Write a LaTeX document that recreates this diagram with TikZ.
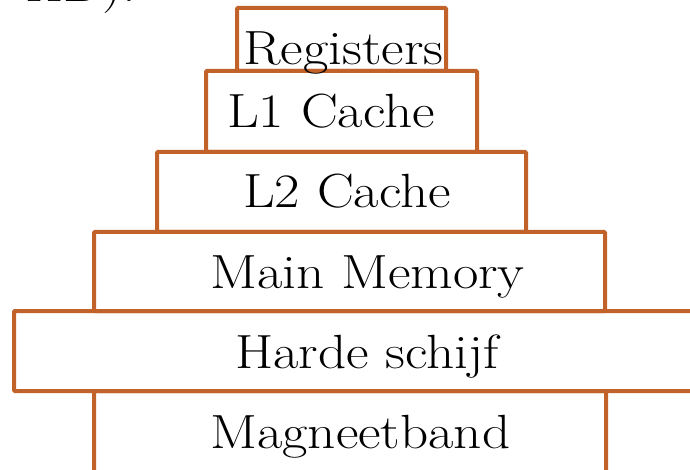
\documentclass[tikz,border=0pt]{standalone}
\usepackage{fontspec}
\usepackage{graphicx}
\definecolor{boxline}{RGB}{192,98,42}
\newcommand{\widetxt}[1]{\scalebox{1.15}[1]{#1}}
\begin{document}
\begin{tikzpicture}[x=1pt,y=-1pt,
  level/.style={draw=boxline,line width=4pt,rounded corners=1pt,inner sep=0pt,fill=none},
  lbl/.style={anchor=base west,inner sep=0pt,font=\fontsize{48}{56}\selectfont}]
\useasboundingbox (0,0) rectangle (690,470);
\node[lbl,anchor=base east] (top) at (136,2) {\widetxt{HD).}};
\node[level,minimum width=209pt,minimum height=63pt] (reg) at (341.5,39.5) {};
\node[level,minimum width=271pt,minimum height=81pt] (l1) at (341.5,111.5) {};
\node[level,minimum width=369pt,minimum height=80pt] (l2) at (341.5,192) {};
\node[level,minimum width=511pt,minimum height=79pt] (mm) at (349.5,271.5) {};
\node[level,minimum width=706pt,minimum height=80pt] (hd) at (367,351) {};
\node[level,minimum width=512pt,minimum height=109pt] (mb) at (350,445.5) {};
\node[lbl] (treg) at (243,65) {\widetxt{Registers}};
\node[lbl] (tl1) at (227,128) {\widetxt{L1 Cache}};
\node[lbl] (tl2) at (243,208) {\widetxt{L2 Cache}};
\node[lbl] (tmm) at (210,288) {\widetxt{Main Memory}};
\node[lbl] (thd) at (235,368) {\widetxt{Harde schijf}};
\node[lbl] (tmb) at (210,448) {\widetxt{Magneetband}};
\end{tikzpicture}
\end{document}
